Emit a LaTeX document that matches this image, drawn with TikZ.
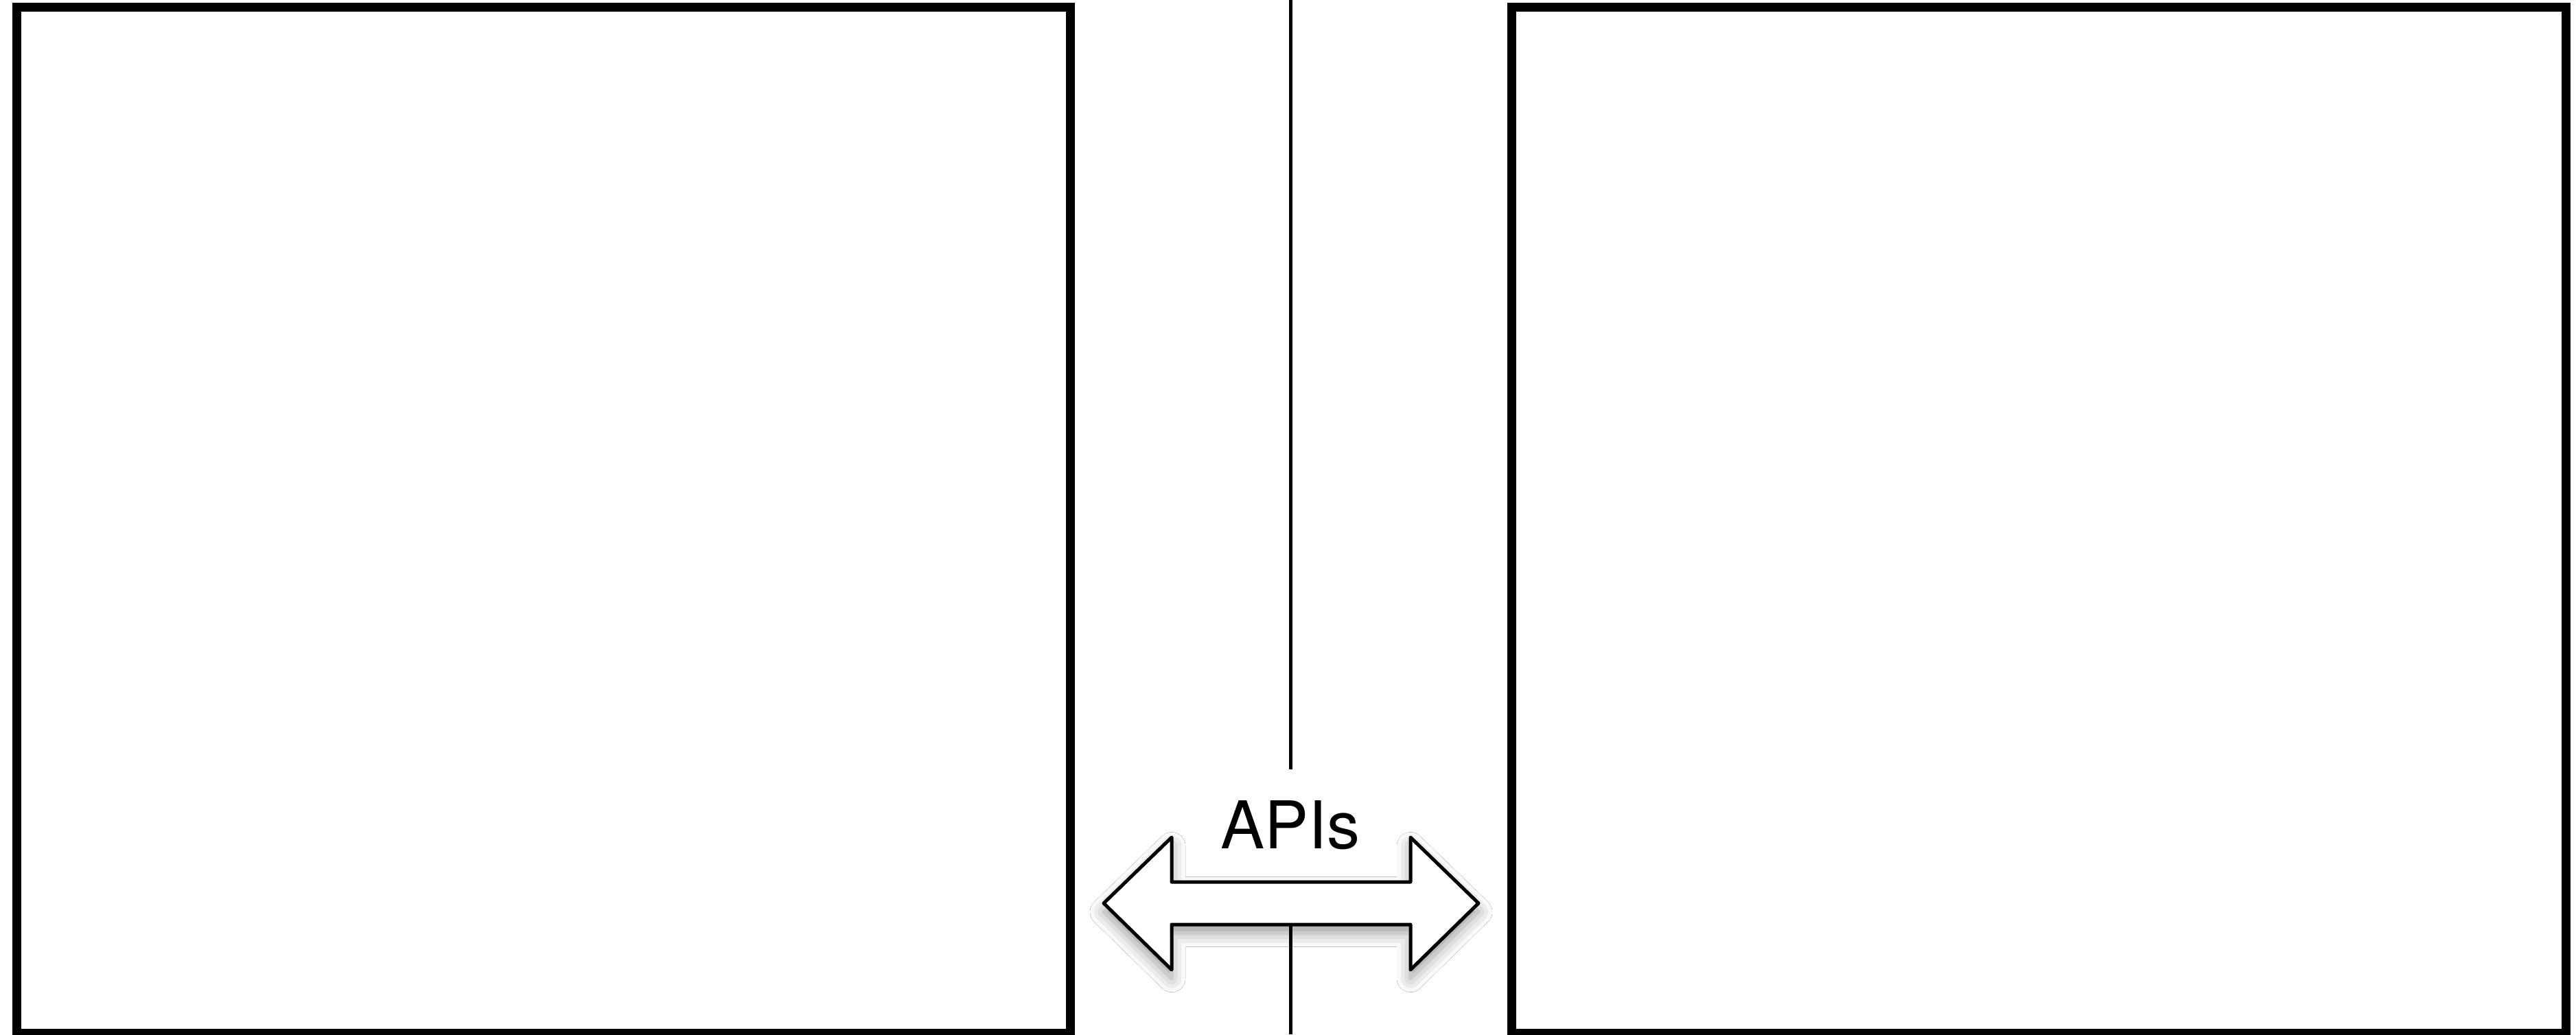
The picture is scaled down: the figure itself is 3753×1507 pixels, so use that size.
\documentclass[tikz,border=0pt]{standalone}
\usepackage{fontspec}
\setmainfont{TeX Gyre Heros}
\usetikzlibrary{shadows.blur}
\begin{document}
\begin{tikzpicture}[x=0.2mm,y=-0.2mm,
  panel/.style={draw=black,line width=2.6mm,fill=white,rectangle,inner sep=0pt},
  link/.style={draw=black,line width=1mm},
  bigarrow/.style={draw=black,fill=white,line width=1mm,line join=round,
    blur shadow={shadow xshift=0mm,shadow yshift=-2.5mm,shadow blur radius=4mm,shadow opacity=40}}]
\useasboundingbox (0,0) rectangle (3753,1507);
\fill[white] (0,0) rectangle (3753,1507);
\node[panel,minimum width=307.1mm,minimum height=298.9mm] (left) at (792.2,758) {};
\node[panel,minimum width=307.2mm,minimum height=298.9mm] (right) at (2970,758) {};
\coordinate (ltop) at (1880.5,0);
\coordinate (lend) at (1880.5,1121);
\coordinate (lbot) at (1880.5,1507);
\draw[link] (ltop) -- (lend);
\draw[bigarrow] (1608,1316) -- (1707,1220) -- (1707,1285) -- (2055,1285) -- (2055,1220)
  -- (2154,1316) -- (2055,1413) -- (2055,1347) -- (1707,1347) -- (1707,1413) -- cycle;
\coordinate (shaftbot) at (1880.5,1347);
\draw[link] (shaftbot) -- (lbot);
\node[anchor=base,inner sep=0pt] (apis) at (1880,1236)
  {\fontsize{54.6}{62}\selectfont APIs};
\end{tikzpicture}
\end{document}
